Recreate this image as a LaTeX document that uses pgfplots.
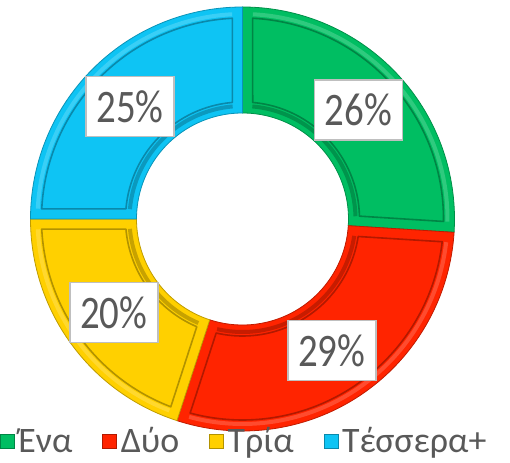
\documentclass[border=0pt]{standalone}
\usepackage{pgfplots}
\pgfplotsset{compat=1.18}
\usepackage{pgfplotstable}
\usepackage{graphicx}
\usepackage{fontspec}
\setmainfont{Carlito}

\definecolor{cgreen}{RGB}{0,190,98}
\definecolor{cred}{RGB}{255,36,0}
\definecolor{cyellow}{RGB}{255,208,0}
\definecolor{cblue}{RGB}{14,196,244}
\definecolor{txt}{RGB}{89,89,89}

\tikzset{lbl/.style={draw=black!25, line width=1.5bp, fill=white, minimum width=88bp,
    minimum height=60bp, inner sep=0pt, text=txt, font=\fontsize{39}{39}\selectfont}}

\pgfplotstableread{
value color
26 cgreen
29 cred
20 cyellow
25 cblue
}\donutdata

\def\cx{242.5}\def\cy{243}
\def\Ro{212}\def\Ri{106}
\def\Rb{201}\def\Rib{117}

% #1 colour, #2 a0, #3 a1, #4..#7 inset angles
\newcommand\drawseg[7]{%
  \fill[#1, shift={(axis cs:\cx,\cy)}] (#2:\Ro bp) arc[start angle=#2,end angle=#3,radius=\Ro bp]
     -- (#3:\Ri bp) arc[start angle=#3,end angle=#2,radius=\Ri bp] -- cycle;
  \draw[#1!82!white, line width=4bp, shift={(axis cs:\cx,\cy)}] (#4:\Rb bp+4bp) arc[start angle=#4,end angle=#5,radius=\Rb bp+4bp];
  \draw[#1!78!black, line width=4bp, shift={(axis cs:\cx,\cy)}] (#7:\Rib bp-4bp) arc[start angle=#7,end angle=#6,radius=\Rib bp-4bp];
  \draw[#1!70!black, line width=1.6bp, line join=round, shift={(axis cs:\cx,\cy)}] (#4:\Rb bp) arc[start angle=#4,end angle=#5,radius=\Rb bp]
     -- (#6:\Rib bp) arc[start angle=#6,end angle=#7,radius=\Rib bp] -- cycle;
  \draw[#1!75!black, line width=0.8bp, shift={(axis cs:\cx,\cy)}] (#2:\Ro bp) arc[start angle=#2,end angle=#3,radius=\Ro bp]
     -- (#3:\Ri bp) arc[start angle=#3,end angle=#2,radius=\Ri bp] -- cycle;
}
\newcommand\lbltext[1]{\scalebox{1}[1.2]{#1\%}}

\begin{document}
\begin{tikzpicture}
\begin{axis}[name=ax, at={(0,0)}, anchor=south west,
  scale only axis, width=510bp, height=462bp,
  xmin=0, xmax=510, ymin=0, ymax=462, hide axis, clip=false,
  legend columns=4,
  legend style={at={(axis cs:0,21)}, anchor=west, draw=none, fill=none,
    inner sep=0pt, outer sep=0pt, font=\fontsize{36}{38}\selectfont, text=txt,
    nodes={inner xsep=4bp, inner ysep=0pt},
    /tikz/every even column/.append style={column sep=26bp}},
  legend image code/.code={\draw[#1] (0bp,-7bp) rectangle (14bp,7bp);},
]
\gdef\astart{90}
\pgfplotsforeachungrouped \i in {0,1,2,3}{%
  \pgfplotstablegetelem{\i}{value}\of\donutdata \let\v\pgfplotsretval
  \pgfplotstablegetelem{\i}{color}\of\donutdata \let\c\pgfplotsretval
  \pgfmathsetmacro\aend{\astart-3.6*\v}
  \pgfmathsetmacro\bA{\astart-2.9}\pgfmathsetmacro\bB{\aend+2.9}
  \pgfmathsetmacro\bC{\aend+5}\pgfmathsetmacro\bD{\astart-5}
  \edef\cmd{\noexpand\drawseg{\c}{\astart}{\aend}{\bA}{\bB}{\bC}{\bD}}\cmd
  \global\let\astart\aend
}
\gdef\astart{90}
\pgfplotsforeachungrouped \i in {0,1,2,3}{%
  \pgfplotstablegetelem{\i}{value}\of\donutdata \let\v\pgfplotsretval
  \pgfmathsetmacro\aend{\astart-3.6*\v}
  \pgfmathsetmacro\amid{(\astart+\aend)/2}
  \pgfmathsetmacro\lx{\cx+159*cos(\amid)}
  \pgfmathsetmacro\ly{\cy+159*sin(\amid)}
  \edef\cmd{\noexpand\node[lbl] at (axis cs:\lx,\ly) {\noexpand\lbltext{\v}};}\cmd
  \global\let\astart\aend
}
\addlegendimage{fill=cgreen, draw=cgreen!70!black}
\addlegendentry{Ένα}
\addlegendimage{fill=cred, draw=cred!70!black}
\addlegendentry{Δύο}
\addlegendimage{fill=cyellow, draw=cyellow!70!black}
\addlegendentry{Τρία}
\addlegendimage{fill=cblue, draw=cblue!70!black}
\addlegendentry{Τέσσερα+}
\end{axis}
\pgfresetboundingbox
\useasboundingbox (ax.south west) rectangle (ax.north east);
\end{tikzpicture}
\end{document}
